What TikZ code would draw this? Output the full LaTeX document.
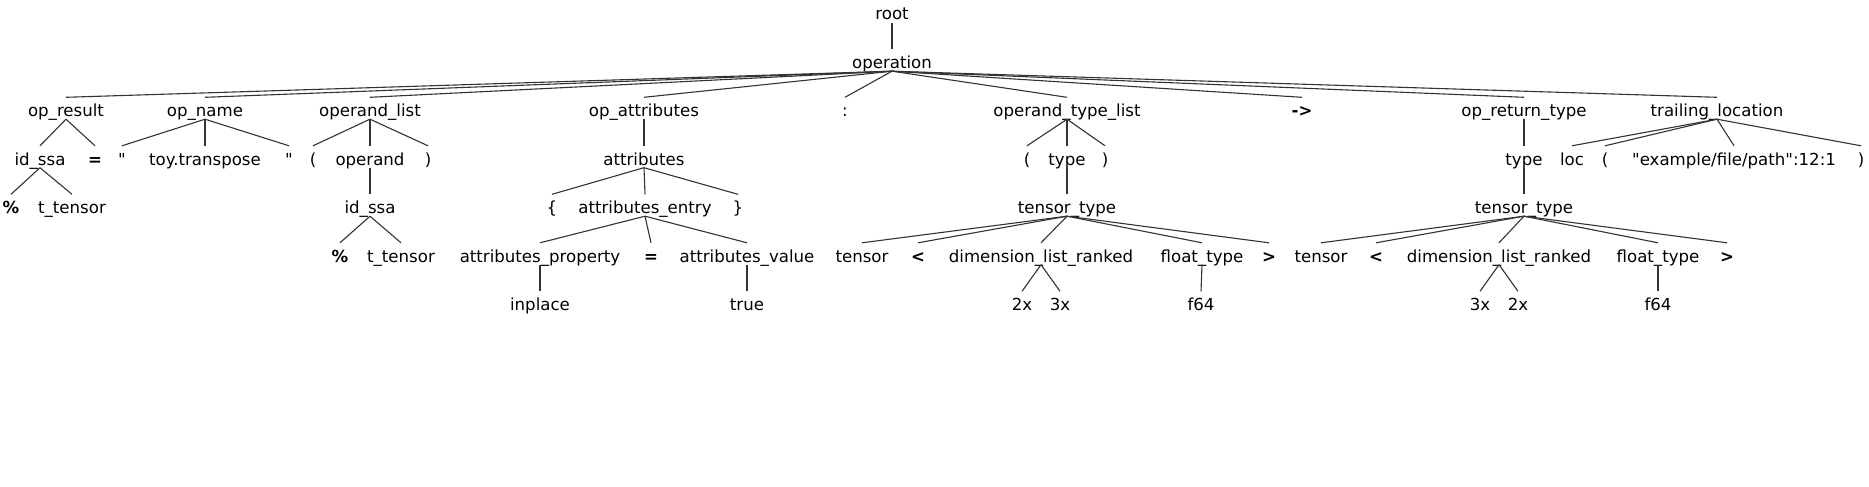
\documentclass[tikz,border=0pt]{standalone}
\usepackage{fontspec}
\setmainfont{DejaVu Sans}
\begin{document}
\begin{tikzpicture}[x=1pt,y=-1pt,
  lbl/.style={anchor=base, inner sep=0pt, text height=19pt, text depth=2.5pt, font=\fontsize{16.6}{20}\selectfont},
  sym/.style={lbl, font=\fontsize{16.6}{20}\selectfont\bfseries},
  edge/.style={draw=black!80, line width=1.1pt}]
\useasboundingbox[fill=white] (0,0) rectangle (1869,487);
% row 0/1
\node[lbl] (root) at (892,20) {root};
\node[lbl] (op) at (892,68.5) {operation};
% row 2
\def\rb{116.5}
\node[lbl] (opres) at (66,\rb) {op\_result};
\node[lbl] (opname) at (205,\rb) {op\_name};
\node[lbl] (oplist) at (370,\rb) {operand\_list};
\node[lbl] (opattr) at (644,\rb) {op\_attributes};
\node[lbl] (colon) at (845,\rb) {:};
\node[lbl] (otl) at (1067,\rb) {operand\_type\_list};
\node[sym] (arrow) at (1302,\rb) {->};
\node[lbl] (ort) at (1524,\rb) {op\_return\_type};
\node[lbl] (trail) at (1717,\rb) {trailing\_location};
% row 3
\def\rc{165}
\node[lbl] (idssa) at (40,\rc) {id\_ssa};
\node[sym] (eqa) at (95,\rc) {=};
\node[lbl] (qa) at (122,\rc) {\textquotedbl};
\node[lbl] (toy) at (205,\rc) {toy.transpose};
\node[lbl] (qb) at (289,\rc) {\textquotedbl};
\node[lbl] (pa) at (313,\rc) {(};
\node[lbl] (operand) at (370,\rc) {operand};
\node[lbl] (pb) at (428,\rc) {)};
\node[lbl] (attrs) at (644,\rc) {attributes};
\node[lbl] (pc) at (1027,\rc) {(};
\node[lbl] (typea) at (1067,\rc) {type};
\node[lbl] (pd) at (1105,\rc) {)};
\node[lbl] (typeb) at (1524,\rc) {type};
\node[lbl] (loc) at (1572,\rc) {loc};
\node[lbl] (pe) at (1605,\rc) {(};
\node[lbl] (path) at (1734,\rc) {\textquotedbl example/file/path\textquotedbl:12:1};
\node[lbl] (pf) at (1861,\rc) {)};
% row 4
\def\rd{213.5}
\node[sym] (pcta) at (11,\rd) {\%};
\node[lbl] (tta) at (72,\rd) {t\_tensor};
\node[lbl] (idssab) at (370,\rd) {id\_ssa};
\node[lbl] (bra) at (552,\rd) {\{};
\node[lbl] (entry) at (645,\rd) {attributes\_entry};
\node[lbl] (brb) at (738,\rd) {\}};
\node[lbl] (tta2) at (1067,\rd) {tensor\_type};
\node[lbl] (ttb2) at (1524,\rd) {tensor\_type};
% row 5
\def\re{262}
\node[sym] (pctb) at (340,\re) {\%};
\node[lbl] (ttb) at (401,\re) {t\_tensor};
\node[lbl] (aprop) at (540,\re) {attributes\_property};
\node[sym] (eqb) at (651,\re) {=};
\node[lbl] (aval) at (747,\re) {attributes\_value};
\node[lbl] (tena) at (862,\re) {tensor};
\node[sym] (lta) at (918,\re) {<};
\node[lbl] (dima) at (1041,\re) {dimension\_list\_ranked};
\node[lbl] (fta) at (1202,\re) {float\_type};
\node[sym] (gta) at (1269,\re) {>};
\node[lbl] (tenb) at (1321,\re) {tensor};
\node[sym] (ltb) at (1376,\re) {<};
\node[lbl] (dimb) at (1499,\re) {dimension\_list\_ranked};
\node[lbl] (ftb) at (1658,\re) {float\_type};
\node[sym] (gtb) at (1727,\re) {>};
% row 6
\def\rf{310.5}
\node[lbl] (inplace) at (540,\rf) {inplace};
\node[lbl] (true) at (747,\rf) {true};
\node[lbl] (xa) at (1022,\rf) {2x};
\node[lbl] (xb) at (1060,\rf) {3x};
\node[lbl] (fa) at (1201,\rf) {f64};
\node[lbl] (xc) at (1480,\rf) {3x};
\node[lbl] (xd) at (1518,\rf) {2x};
\node[lbl] (fb) at (1658,\rf) {f64};
% edges
\foreach \p/\c in {root/op,
  op/opres, op/opname, op/oplist, op/opattr, op/colon, op/otl, op/arrow, op/ort, op/trail,
  opres/idssa, opres/eqa, idssa/pcta, idssa/tta,
  opname/qa, opname/toy, opname/qb,
  oplist/pa, oplist/operand, oplist/pb, operand/idssab, idssab/pctb, idssab/ttb,
  opattr/attrs, attrs/bra, attrs/entry, attrs/brb,
  entry/aprop, entry/eqb, entry/aval, aprop/inplace, aval/true,
  otl/pc, otl/typea, otl/pd, typea/tta2,
  tta2/tena, tta2/lta, tta2/dima, tta2/fta, tta2/gta, dima/xa, dima/xb, fta/fa,
  ort/typeb, typeb/ttb2,
  ttb2/tenb, ttb2/ltb, ttb2/dimb, ttb2/ftb, ttb2/gtb, dimb/xc, dimb/xd, ftb/fb,
  trail/loc, trail/pe, trail/path, trail/pf}
  \draw[edge] (\p.south) -- (\c.north);
\end{tikzpicture}
\end{document}
